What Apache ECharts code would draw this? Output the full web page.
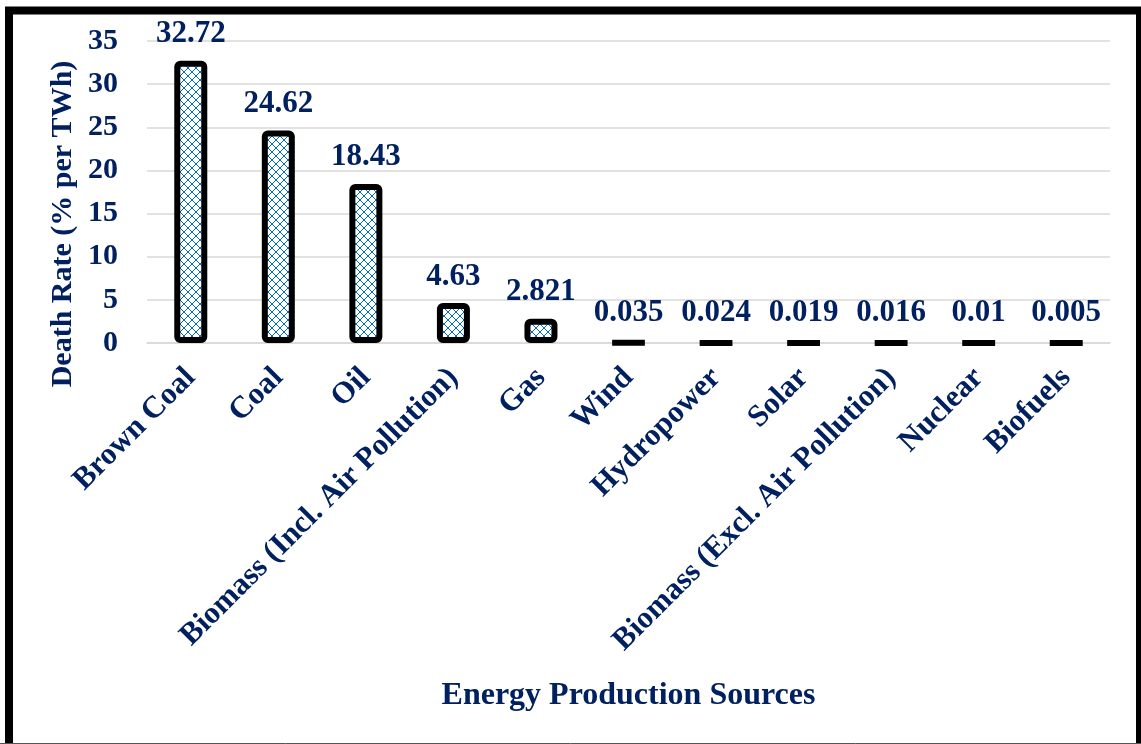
<!DOCTYPE html>
<html>
<head>
<meta charset="utf-8">
<script src="https://cdn.jsdelivr.net/npm/echarts@6/dist/echarts.min.js"></script>
<style>
  html, body { margin: 0; padding: 0; background: #ffffff; }
  #chart { width: 1141px; height: 744px; }
</style>
</head>
<body>
<div id="chart"></div>
<script>
// Death rate per TWh by energy source
const categories = [
  'Brown Coal', 'Coal', 'Oil', 'Biomass (Incl. Air Pollution)', 'Gas',
  'Wind', 'Hydropower', 'Solar', 'Biomass (Excl. Air Pollution)', 'Nuclear', 'Biofuels'
];
const deathRates = [32.72, 24.62, 18.43, 4.63, 2.821, 0.035, 0.024, 0.019, 0.016, 0.01, 0.005];
const yTicks = { min: 0, max: 35, step: 5 };

const navy = '#002060';
const serif = '"Liberation Serif", "Times New Roman", serif';

// Small zigzag tile used as the bar fill
function zigzagTile() {
  const c = document.createElement('canvas');
  c.width = 8; c.height = 8;
  const g = c.getContext('2d');
  g.fillStyle = '#ffffff';
  g.fillRect(0, 0, 8, 8);
  g.fillStyle = '#0070C0';
  const pts = [[0,0],[7,0],[1,1],[6,1],[2,2],[5,2],[3,3],[4,3],
               [0,4],[7,4],[1,5],[6,5],[2,6],[5,6],[3,7],[4,7]];
  // offset every other chevron row so they interlock
  for (const [x, y] of pts) {
    const xx = y >= 4 ? (x + 4) % 8 : x;
    g.fillRect(xx, y, 1, 1);
  }
  return c;
}

const chart = echarts.init(document.getElementById('chart'), null, { renderer: 'canvas' });

chart.setOption({
  backgroundColor: '#ffffff',
  animation: false,
  grid: { left: 147, right: 31, top: 41, bottom: 401, containLabel: false },
  xAxis: {
    type: 'category',
    data: categories,
    axisTick: { show: false },
    axisLine: { show: true, lineStyle: { color: '#d9d9d9', width: 1.5 } },
    axisLabel: {
      interval: 0,
      rotate: 45,
      margin: 30,
      color: navy,
      fontFamily: serif,
      fontWeight: 'bold',
      fontSize: 31
    },
    name: 'Energy Production Sources',
    nameLocation: 'middle',
    nameGap: 337,
    nameTextStyle: { color: navy, fontFamily: serif, fontWeight: 'bold', fontSize: 32 }
  },
  yAxis: {
    type: 'value',
    min: yTicks.min,
    max: yTicks.max,
    interval: yTicks.step,
    axisLine: { show: false },
    axisTick: { show: false },
    splitLine: { lineStyle: { color: '#d9d9d9', width: 1.5 } },
    axisLabel: {
      margin: 29,
      color: navy,
      fontFamily: serif,
      fontWeight: 'bold',
      fontSize: 30
    }
  },
  series: [{
    type: 'bar',
    data: deathRates,
    barWidth: 33,
    itemStyle: {
      color: { image: zigzagTile(), repeat: 'repeat' },
      borderColor: '#000000',
      borderWidth: 6,
      borderRadius: 3
    },
    label: {
      show: true,
      position: 'top',
      distance: 11,
      color: navy,
      fontFamily: serif,
      fontWeight: 'bold',
      fontSize: 31,
      formatter: p => String(p.value)
    }
  }],
  graphic: [
    {
      type: 'text',
      x: 63,
      y: 224,
      rotation: Math.PI / 2,
      style: {
        text: 'Death Rate (% per TWh)',
        fill: navy,
        font: 'bold 30px ' + serif,
        align: 'center',
        verticalAlign: 'middle'
      }
    },
    {
      type: 'rect',
      shape: { x: 9, y: 10.5, width: 1131, height: 800 },
      style: { fill: null, stroke: '#000000', lineWidth: 8 },
      silent: true
    },
    {
      type: 'line',
      shape: { x1: 0, y1: 743.5, x2: 1141, y2: 743.5 },
      style: { stroke: '#555555', lineWidth: 1 },
      silent: true
    }
  ]
});
</script>
</body>
</html>
